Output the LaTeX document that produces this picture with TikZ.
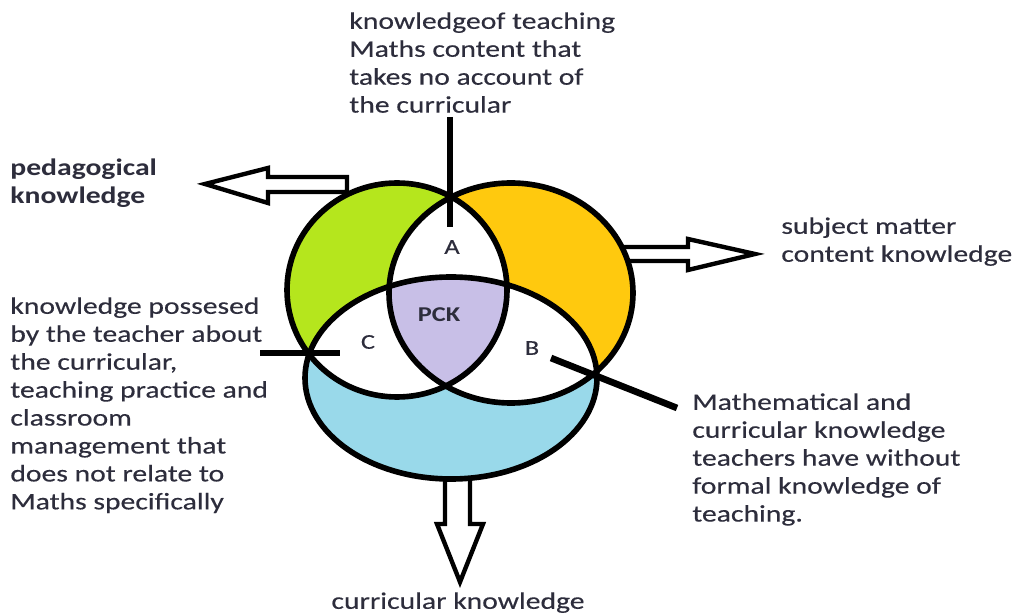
\documentclass[tikz,border=0pt]{standalone}
\usepackage{fontspec}
\setmainfont{Carlito}[FakeStretch=1.25, UprightFeatures={FakeBold=0.3}]
\usepackage{tikz}
\usetikzlibrary{positioning, calc}
\definecolor{paintlime}{RGB}{181,230,29}
\definecolor{paintgold}{RGB}{255,201,14}
\definecolor{paintblue}{RGB}{153,217,234}
\definecolor{paintlav}{RGB}{200,191,231}
\definecolor{txtgray}{RGB}{45,45,60}

\begin{document}
\begin{tikzpicture}[
        x=0.02cm, y=-0.02cm,
        txt/.style={font=\fontsize{13.5pt}{15.9pt}\selectfont, text=txtgray, align=left, inner sep=0pt, anchor=north west},
        region/.style={font=\fontsize{12pt}{13pt}\selectfont, text=txtgray, inner sep=0pt},
        ring/.style={line width=3.2pt},
        leader/.style={line width=3.8pt},
        blockarrow/.style={draw, line width=2.5pt, fill=white, line join=miter},
    ]
        \useasboundingbox (0,0) rectangle (1014,614);
        % block arrows, behind the circles
        \draw[blockarrow] (347,177) -- (268,177) -- (268,168) -- (205,184) -- (268,203) -- (268,192) -- (347,192) -- cycle;
        \draw[blockarrow] (615,247) -- (688,247) -- (688,239) -- (755,254) -- (688,270) -- (688,261) -- (615,261) -- cycle;
        \draw[blockarrow] (445,470) -- (445,524) -- (437,524) -- (460,582) -- (483,524) -- (470,524) -- (470,470) -- cycle;
        % the three sets
        \fill[paintlime] (397,290) ellipse [x radius=110, y radius=107];
        \fill[paintgold] (511,293) ellipse [x radius=122, y radius=110];
        \fill[paintblue] (451,378) ellipse [x radius=146, y radius=101];
        \begin{scope}
            \clip (397,290) ellipse [x radius=110, y radius=107];
            \fill[white] (511,293) ellipse [x radius=122, y radius=110];
            \fill[white] (451,378) ellipse [x radius=146, y radius=101];
        \end{scope}
        \begin{scope}
            \clip (511,293) ellipse [x radius=122, y radius=110];
            \fill[white] (451,378) ellipse [x radius=146, y radius=101];
        \end{scope}
        \begin{scope}
            \clip (397,290) ellipse [x radius=110, y radius=107];
            \clip (511,293) ellipse [x radius=122, y radius=110];
            \fill[paintlav] (451,378) ellipse [x radius=146, y radius=101];
        \end{scope}
        \draw[ring] (397,290) ellipse [x radius=110, y radius=107];
        \draw[ring] (511,293) ellipse [x radius=122, y radius=110];
        \draw[ring] (451,378) ellipse [x radius=146, y radius=101];
        % region labels
        \node[region] (A) at (452,247) {A};
        \node[region, font=\fontsize{12pt}{13pt}\selectfont\bfseries] (PCK) at (439,315) {PCK};
        \node[region] (C) at (368,342) {C};
        \node[region] (B) at (532,348) {B};
        % texts
        \node[txt] (noCurr) at (349,12) {knowledgeof teaching\\Maths content that\\takes no account of\\the curricular};
        \node[txt, font=\fontsize{13.5pt}{15.9pt}\selectfont\bfseries] (pedK) at (10,159) {pedagogical\\knowledge};
        \node[txt] (subjK) at (781,217) {subject matter\\content knowledge};
        \node[txt] (teachK) at (10,297) {knowledge possesed\\by the teacher about\\the curricular,\\teaching practice and\\classroom\\management that\\does not relate to\\Maths specifically};
        \node[txt] (mathK) at (692,393) {Mathematical and\\curricular knowledge\\teachers have without\\formal knowledge of\\teaching.};
        \node[txt, anchor=north] (currK) at (458,592) {curricular knowledge};
        % leader lines
        \coordinate (topStart) at (450,117);
        \coordinate (topEnd) at (450,227);
        \coordinate (leftStart) at (260,353);
        \coordinate (leftEnd) at (340,353);
        \coordinate (bStart) at (551,358);
        \coordinate (bEnd) at (677,408);
        \draw[leader] (topStart) -- (topEnd);
        \draw[leader] (leftStart) -- (leftEnd);
        \draw[leader] (bStart) -- (bEnd);
    \end{tikzpicture}
\end{document}
